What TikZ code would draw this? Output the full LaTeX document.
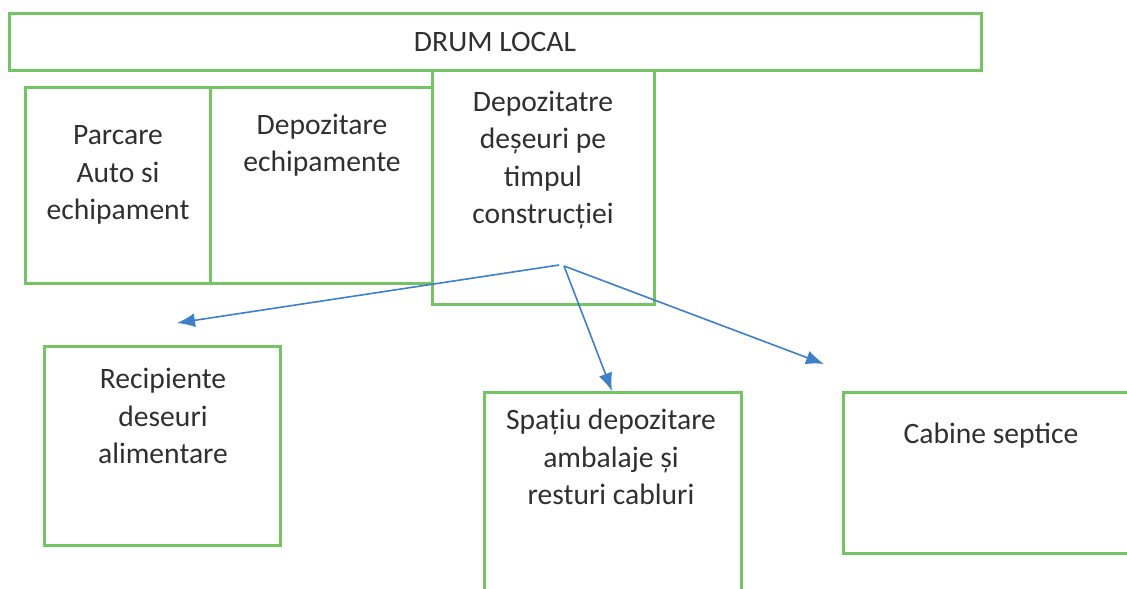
\documentclass[tikz,border=0pt]{standalone}
\usepackage{fontspec}
\setmainfont{Carlito}
\usetikzlibrary{arrows.meta, positioning}
\usepackage{xcolor}
\definecolor{zonegreen}{RGB}{116,196,100}
\definecolor{flowblue}{RGB}{62,128,200}
\definecolor{inkgray}{RGB}{48,48,48}

\begin{document}
\begin{tikzpicture}[
x=0.5pt, y=-0.5pt,
zone/.style={draw=zonegreen,
line width=1.5pt,
rectangle,
inner sep=0pt},
txt/.style={text=inkgray,
align=center,
inner sep=0pt,
font=\fontsize{14.8}{18.7}\selectfont},
arrow/.style={-{Latex[length=9pt, width=7pt]}, draw=flowblue, fill=flowblue, line width=0.8pt}
]
\useasboundingbox (0,0) rectangle (1127,588);

% boxes
\node[zone, minimum width=486pt, minimum height=28.5pt] (drum) at (495,42.5) {};
\node[zone, minimum width=92.5pt, minimum height=97.5pt] (parcare) at (117.5,185.5) {};
\node[zone, minimum width=111pt, minimum height=97.5pt] (echip) at (321,185.5) {};
\node[zone, minimum width=111pt, minimum height=116.5pt, fill=white] (deseuri) at (543,187.5) {};
\node[zone, minimum width=118pt, minimum height=99.5pt] (recip) at (162,445.5) {};
\node[zone, minimum width=128.5pt, minimum height=104pt] (ambalaj) at (612.5,496) {};
\node[zone, minimum width=146pt, minimum height=80.5pt] (cabine) at (989,472.5) {};

% texts
\node[txt] (drumtxt) at (drum.center) {DRUM LOCAL};
\node[txt] (parcaretxt) at (118,175) {Parcare\\Auto si\\echipament};
\node[txt] (echiptxt) at (322,145) {Depozitare\\echipamente};
\node[txt] (deseuritxt) at (543,160) {Depozitatre\\deșeuri pe\\timpul\\construcției};
\node[txt] (reciptxt) at (163,416) {Recipiente\\deseuri\\alimentare};
\node[txt] (ambalajtxt) at (611,457) {Spațiu depozitare\\ambalaje și\\resturi cabluri};
\node[txt] (cabinetxt) at (991,436) {Cabine septice};

% arrows
\coordinate (forkA) at (559,265);
\coordinate (forkB) at (564,266);
\coordinate (tipA) at (177,323);
\coordinate (tipB) at (612,391);
\coordinate (tipC) at (824,364);

\draw[arrow] (forkA) -- (tipA);
\draw[arrow] (forkB) -- (tipB);
\draw[arrow] (forkB) -- (tipC);

\end{tikzpicture}
\end{document}
